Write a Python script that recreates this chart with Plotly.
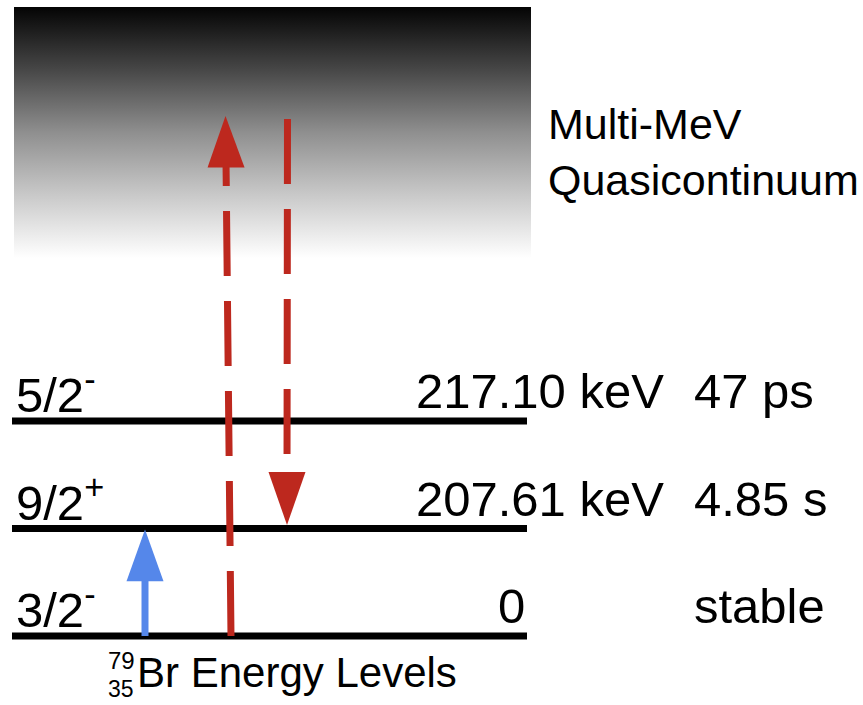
import plotly.graph_objects as go

# ---------------- data ----------------
level_index = [0, 1, 2]
spins = ["3/2<sup>-</sup>", "9/2<sup>+</sup>", "5/2<sup>-</sup>"]
energies_keV = [0.0, 207.61, 217.10]
energy_labels = ["0", "207.61 keV", "217.10 keV"]
half_lives = ["stable", "4.85 s", "47 ps"]
continuum_lines = ["Multi-MeV", "Quasicontinuum"]
nuclide_A = "79"
nuclide_Z = "35"
caption = "Br Energy Levels"

# ---------------- layout / styles ----------------
W, H = 863, 705
PX_PER_LEVEL = 107.5
Y0_PX = 636.0                       # pixel row of ground level


def u(px):
    """pixel row -> schematic level units (y axis)"""
    return (Y0_PX - px) / PX_PER_LEVEL


FONT = "Liberation Sans, Arial, Helvetica, sans-serif"
LBL_SIZE = 49
RED = "#bd281e"
BLUE = "#5587ea"
LINE_X0, LINE_X1 = 12, 527
CONT_X0, CONT_X1 = 14, 531
CONT_TOP, CONT_BOT = u(7), u(258)
HEAD_HALF = 18.5
HEAD_LEN = 0.48

fig = go.Figure()

# quasicontinuum gradient box
fig.add_trace(go.Scatter(
    x=[CONT_X0, CONT_X1, CONT_X1, CONT_X0, CONT_X0],
    y=[CONT_BOT, CONT_BOT, CONT_TOP, CONT_TOP, CONT_BOT],
    mode="lines", line=dict(width=0), fill="toself",
    fillgradient=dict(type="vertical",
                      colorscale=[[0.0, "#ffffff"], [0.25, "#c9c9c9"],
                                  [0.5, "#8f8f8f"], [0.75, "#474747"],
                                  [1.0, "#040404"]]),
    hoverinfo="skip", showlegend=False))

# energy levels
for lv in level_index:
    fig.add_trace(go.Scatter(
        x=[LINE_X0, LINE_X1], y=[lv, lv], mode="lines",
        line=dict(color="black", width=7), hoverinfo="skip", showlegend=False))


def arrow(x_tail, y_tail, x_tip, y_tip, color, dash=None, width=7):
    direction = 1 if y_tip > y_tail else -1
    y_base = y_tip - direction * HEAD_LEN
    frac = (y_base - y_tail) / (y_tip - y_tail)
    x_base = x_tail + (x_tip - x_tail) * frac
    fig.add_trace(go.Scatter(
        x=[x_tail, x_base], y=[y_tail, y_base + direction * 0.02], mode="lines",
        line=dict(color=color, width=width, dash=dash),
        hoverinfo="skip", showlegend=False))
    fig.add_trace(go.Scatter(
        x=[x_base - HEAD_HALF, x_base + HEAD_HALF, x_tip, x_base - HEAD_HALF],
        y=[y_base, y_base, y_tip, y_base], mode="lines", fill="toself",
        fillcolor=color, line=dict(width=0, color=color),
        hoverinfo="skip", showlegend=False))


# blue excitation 3/2- -> 9/2+
arrow(145, level_index[0], 145, level_index[1] - 0.01, BLUE)
# red dashed up into the quasicontinuum
arrow(231, level_index[0], 225.5, u(116), RED, dash="65px,25px")
# red dashed down from the quasicontinuum to the isomer
down_start = u(119)
fig.add_trace(go.Scatter(
    x=[287.5, 287], y=[down_start, level_index[1] + 0.5], mode="lines",
    line=dict(color=RED, width=7, dash="65px,25px"),
    hoverinfo="skip", showlegend=False))
fig.add_trace(go.Scatter(
    x=[287 - HEAD_HALF, 287 + HEAD_HALF, 287, 287 - HEAD_HALF],
    y=[u(472), u(472), u(525), u(472)], mode="lines", fill="toself",
    fillcolor=RED, line=dict(width=0, color=RED),
    hoverinfo="skip", showlegend=False))

ann = []
TXT_OFF = 0.275
for lv, sp, el, hl in zip(level_index, spins, energy_labels, half_lives):
    y = lv + TXT_OFF
    ann.append(dict(x=14, y=y, text=sp, xanchor="left", yanchor="middle",
                    font=dict(size=LBL_SIZE, family=FONT, color="black"),
                    showarrow=False))
    ex = LINE_X1 if lv == 0 else 666
    ann.append(dict(x=ex, y=y, text=el, xanchor="right", yanchor="middle",
                    font=dict(size=LBL_SIZE, family=FONT, color="black"),
                    showarrow=False))
    ann.append(dict(x=692, y=y, text=hl, xanchor="left", yanchor="middle",
                    font=dict(size=LBL_SIZE, family=FONT, color="black"),
                    showarrow=False))

for i, t in enumerate(continuum_lines):
    ann.append(dict(x=546, y=u(124 + 56 * i), text=t, xanchor="left",
                    yanchor="middle",
                    font=dict(size=43, family=FONT, color="black"),
                    showarrow=False))

ann.append(dict(x=106, y=u(660), text=nuclide_A, xanchor="left", yanchor="middle",
                font=dict(size=24, family=FONT, color="black"), showarrow=False))
ann.append(dict(x=106, y=u(704), text=nuclide_Z, xanchor="left", yanchor="bottom",
                font=dict(size=23, family=FONT, color="black"), showarrow=False))
ann.append(dict(x=135, y=u(672), text=caption, xanchor="left", yanchor="middle",
                font=dict(size=42, family=FONT, color="black"), showarrow=False))

fig.update_layout(
    width=W, height=H, margin=dict(l=0, r=0, t=0, b=0),
    paper_bgcolor="white", plot_bgcolor="white",
    xaxis=dict(range=[0, W], visible=False, fixedrange=True),
    yaxis=dict(range=[u(H), u(0)], visible=False, fixedrange=True),
    annotations=ann, showlegend=False)

fig.write_html("out.html")
